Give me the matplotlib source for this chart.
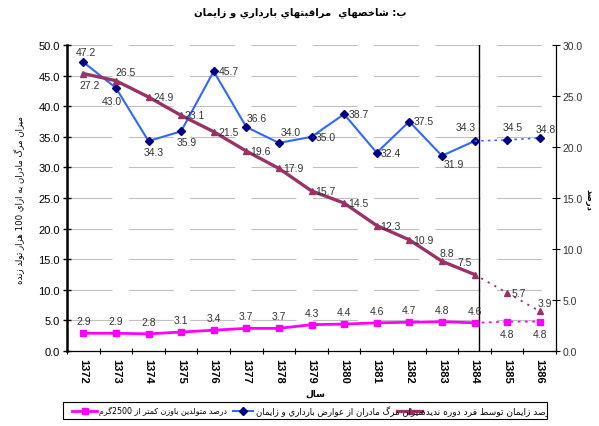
import re
import numpy as np
import matplotlib
matplotlib.use("Agg")
import matplotlib.pyplot as plt
from matplotlib import font_manager
from matplotlib.ft2font import FT2Font
from matplotlib.lines import Line2D
from matplotlib.patches import Rectangle
from matplotlib.transforms import Bbox, TransformedBbox

# data
years = ["1372", "1373", "1374", "1375", "1376", "1377", "1378", "1379",
         "1380", "1381", "1382", "1383", "1384", "1385", "1386"]
maternal_deaths = [47.2, 43.0, 34.3, 35.9, 45.7, 36.6, 34.0, 35.0,
                   38.7, 32.4, 37.5, 31.9, 34.3, 34.5, 34.8]
untrained_births = [27.2, 26.5, 24.9, 23.1, 21.5, 19.6, 17.9, 15.7,
                    14.5, 12.3, 10.9, 8.8, 7.5, 5.7, 3.9]
low_weight = [2.9, 2.9, 2.8, 3.1, 3.4, 3.7, 3.7, 4.3,
              4.4, 4.6, 4.7, 4.8, 4.6, 4.8, 4.8]
n_actual = 13  # 1372..1384 observed, 1385-1386 projected (dotted)

title = "ب: شاخصهاي  مراقبتهاي بارداري و زايمان"
ylabel_left = "ميزان مرگ مادران به ازاي 100 هزار تولد زنده"
ylabel_right = "درصد"
xlabel = "سال"
legend_labels = ["درصد متولدين باوزن كمتر از 2500گرم",
                 "ميزان مرگ مادران از عوارض بارداري و زايمان",
                 "درصد زايمان توسط فرد دوره نديده"]

# label offsets in pixels (dx, dy)
off_blue = [(3, 10), (-4, -13), (5, -11), (6, -11), (15, 0), (10, 9), (12, 11), (14, 0),
            (15, 0), (14, 0), (14, 0), (12, -8), (-9, 14), (6, 13), (6, 9)]
off_purple = [(6, -11), (10, 9), (15, 0), (14, 0), (15, 0), (14, 0), (14, 0), (14, 0),
              (14, 0), (14, 0), (14, 0), (5, 8), (-10, 12), (12, 0), (5, 8)]
off_pink = [(0, 12)] * 13 + [(0, -12)] * 2

BLUE_LINE = "#3366FF"
BLUE_MARK = "#000080"
PURPLE = "#993366"
PINK = "#FF00FF"
LABEL_COL = "#333333"

# --- minimal Arabic/Persian shaping (matplotlib has no bidi/shaping) ---
DUAL = {"ب": 0xFE8F, "ت": 0xFE95, "ج": 0xFE9D, "ح": 0xFEA1, "خ": 0xFEA5, "س": 0xFEB1,
        "ش": 0xFEB5, "ص": 0xFEB9, "ض": 0xFEBD, "ط": 0xFEC1, "ع": 0xFEC9, "ف": 0xFED1,
        "ق": 0xFED5, "ك": 0xFED9, "ل": 0xFEDD, "م": 0xFEE1, "ن": 0xFEE5, "ه": 0xFEE9,
        "ي": 0xFEF1, "گ": 0xFB92, "ک": 0xFB8E, "ی": 0xFBFC}
RIGHT = {"ا": 0xFE8D, "د": 0xFEA9, "ذ": 0xFEAB, "ر": 0xFEAD, "ز": 0xFEAF, "و": 0xFEED}

_fonts = [FT2Font(font_manager.findfont(font_manager.FontProperties(family="DejaVu Sans", weight=w)))
          for w in ("normal", "bold")]


def has_glyph(cp):
    return all(f.get_char_index(cp) != 0 for f in _fonts)


def shape(text):
    out = []
    for i, ch in enumerate(text):
        base = DUAL.get(ch, RIGHT.get(ch))
        if base is None:
            out.append(ch)
            continue
        prev = text[i - 1] if i > 0 else ""
        nxt = text[i + 1] if i < len(text) - 1 else ""
        jp = prev in DUAL
        jn = ch in DUAL and (nxt in DUAL or nxt in RIGHT)
        form = base + (3 if jp and jn else 1 if jp else 2 if jn else 0)
        out.append(chr(form) if has_glyph(form) else ch)
    s = "".join(out)
    runs = re.findall(r"\d+|\D+", s)
    return "".join(r if r[0].isdigit() else r[::-1] for r in reversed(runs))


plt.rcParams["font.family"] = ["Liberation Sans", "DejaVu Sans"]

fig = plt.figure(figsize=(5.99, 4.27), dpi=100)
ax = fig.add_axes([67 / 599, 1 - 352 / 427, 489 / 599, 306 / 427])
ax2 = ax.twinx()

x = np.arange(len(years))
xa = x[:n_actual]
xp = x[n_actual - 1:]

# grid (dashed like the original)
for g in np.arange(5, 51, 5):
    ax.axhline(g, color="#C0C0C0", lw=0.8, ls=(0, (40.5, 14.7)), zorder=0)

# blue: maternal deaths (left axis)
ax.plot(xa, maternal_deaths[:n_actual], color=BLUE_LINE, lw=1.5, marker="D", ms=4,
        mfc=BLUE_MARK, mec=BLUE_MARK, zorder=3)
ax.plot(xp, maternal_deaths[n_actual - 1:], color=BLUE_LINE, lw=1.2, ls=(0, (1.5, 2.5)), zorder=3)
ax.plot(xp[1:], maternal_deaths[n_actual:], ls="none", marker="D", ms=4,
        mfc=BLUE_MARK, mec=BLUE_MARK, zorder=3)

# pink: low birth weight (left axis)
ax.plot(xa, low_weight[:n_actual], color=PINK, lw=2.0, marker="s", ms=5, zorder=3)
ax.plot(xp, low_weight[n_actual - 1:], color=PINK, lw=1.3, ls=(0, (1.5, 2.5)), zorder=3)
ax.plot(xp[1:], low_weight[n_actual:], ls="none", marker="s", ms=5, color=PINK, zorder=3)

# purple: births by untrained person (right axis)
ax2.plot(xa, untrained_births[:n_actual], color=PURPLE, lw=2.4, marker="^", ms=5, zorder=3)
ax2.plot(xp, untrained_births[n_actual - 1:], color=PURPLE, lw=1.3, ls=(0, (1.2, 3)), zorder=3)
ax2.plot(xp[1:], untrained_births[n_actual:], ls="none", marker="^", ms=5, color=PURPLE, zorder=3)

for xi, v, o in zip(x, maternal_deaths, off_blue):
    ax.annotate(f"{v:.1f}", (xi, v), xytext=o, textcoords="offset pixels",
                ha="center", va="center", fontsize=7.5, color=LABEL_COL, zorder=4)
for xi, v, o in zip(x, low_weight, off_pink):
    ax.annotate(f"{v:.1f}", (xi, v), xytext=o, textcoords="offset pixels",
                ha="center", va="center", fontsize=7.5, color=LABEL_COL, zorder=4)
for xi, v, o in zip(x, untrained_births, off_purple):
    ax2.annotate(f"{v:.1f}", (xi, v), xytext=o, textcoords="offset pixels",
                 ha="center", va="center", fontsize=7.5, color=LABEL_COL, zorder=4)

ax.axvline(12.14, color="black", lw=1, zorder=2)

ax.set_xlim(-0.5, len(years) - 0.5)
ax.set_ylim(0, 50)
ax2.set_ylim(0, 30)
ax.set_yticks(np.arange(0, 51, 5))
ax.set_yticklabels([f"{v:.1f}" for v in np.arange(0, 51, 5)])
ax2.set_yticks(np.arange(0, 31, 5))
ax2.set_yticklabels([f"{v:.1f}" for v in np.arange(0, 31, 5)])
ax.set_xticks(x)
ax.set_xticklabels(years, rotation=270, fontweight="bold", fontsize=8)
ax.set_xticks(np.arange(-0.5, len(years), 1), minor=True)
ax.tick_params(axis="x", which="major", length=0, pad=5)
ax.tick_params(axis="x", which="minor", length=5, direction="inout", width=0.8)
ax.tick_params(axis="y", length=6, direction="inout", width=1, labelsize=8, pad=2, colors="black")
ax2.tick_params(axis="y", length=6, direction="inout", width=0.8, labelsize=7.5, pad=1.5,
                labelcolor="#333333")

for a in (ax, ax2):
    a.spines["top"].set_visible(False)
ax.spines["left"].set_linewidth(1.8)
ax2.spines["left"].set_visible(False)
ax2.spines["right"].set_linewidth(0.9)
ax.spines["bottom"].set_linewidth(0.9)
ax.spines["right"].set_visible(False)
ax2.spines["bottom"].set_visible(False)

# texts
fig.text(300 / 599, 1 - 13 / 427, shape(title), ha="center", va="center",
         fontsize=7.3, fontweight="bold", family="DejaVu Sans")
fig.text(20 / 599, 1 - 200 / 427, shape(ylabel_left), rotation=90, ha="center", va="center",
         fontsize=6.2, family="DejaVu Sans")
fig.text(589 / 599, 1 - 200 / 427, shape(ylabel_right), rotation=270, ha="center", va="center",
         fontsize=6, fontweight="bold", family="DejaVu Sans")
fig.text(315 / 599, 1 - 394 / 427, shape(xlabel), ha="center", va="center",
         fontsize=6.5, fontweight="bold", family="DejaVu Sans")

# legend drawn by hand (its last entry is cut by the frame, as in the original)
lx0, lx1, ly0, ly1 = 63 / 599, 547 / 599, 1 - 420 / 427, 1 - 403 / 427
fig.add_artist(Rectangle((lx0, ly0), lx1 - lx0, ly1 - ly0, transform=fig.transFigure,
                         fill=False, ec="black", lw=0.8))
clip = TransformedBbox(Bbox([[lx0, ly0], [lx1, ly1]]), fig.transFigure)
ly = (ly0 + ly1) / 2
handles = [(72, 97, PINK, "s", 2.0, 99, 5.7), (233, 253, BLUE_LINE, "D", 1.5, 256, 6.2),
           (397, 422, PURPLE, "^", 2.4, 421, 6.6)]
for (h0, h1, col, mk, lw, tx, fs), lab in zip(handles, legend_labels):
    mcol = BLUE_MARK if mk == "D" else col
    fig.add_artist(Line2D([h0 / 599, h1 / 599], [ly, ly], transform=fig.transFigure,
                          color=col, lw=lw))
    fig.add_artist(Line2D([(h0 + h1) / 2 / 599], [ly], transform=fig.transFigure,
                          marker=mk, ms=4.5, mfc=mcol, mec=mcol, ls="none"))
    t = fig.text(tx / 599, ly, shape(lab), ha="left", va="center", fontsize=fs,
                 family="DejaVu Sans")
    t.set_clip_box(clip)
    t.set_clip_on(True)

fig.savefig("out.png", dpi=100)
